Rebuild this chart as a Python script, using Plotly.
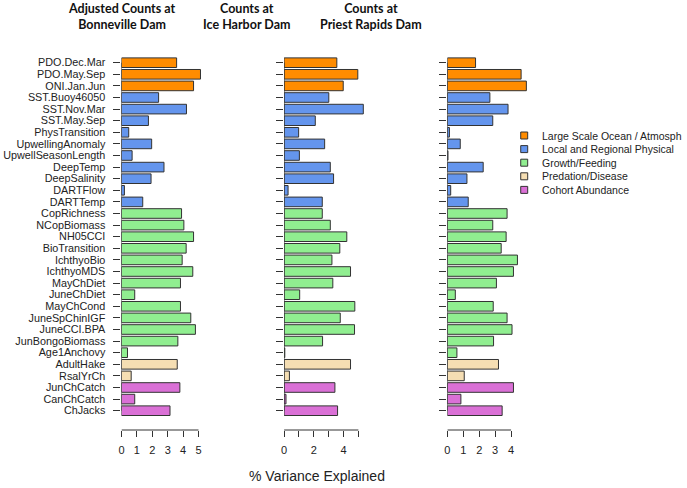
import plotly.graph_objects as go

labels = ["PDO.Dec.Mar", "PDO.May.Sep", "ONI.Jan.Jun", "SST.Buoy46050", "SST.Nov.Mar",
          "SST.May.Sep", "PhysTransition", "UpwellingAnomaly", "UpwellSeasonLength",
          "DeepTemp", "DeepSalinity", "DARTFlow", "DARTTemp", "CopRichness", "NCopBiomass",
          "NH05CCI", "BioTransition", "IchthyoBio", "IchthyoMDS", "MayChDiet", "JuneChDiet",
          "MayChCond", "JuneSpChinIGF", "JuneCCI.BPA", "JunBongoBiomass", "Age1Anchovy",
          "AdultHake", "RsalYrCh", "JunChCatch", "CanChCatch", "ChJacks"]

group_names = ["Large Scale Ocean / Atmosph", "Local and Regional Physical",
               "Growth/Feeding", "Predation/Disease", "Cohort Abundance"]
group_colors = ["#FF8C00", "#6495ED", "#90EE90", "#F5DEB3", "#DA70D6"]
row_group = [0, 0, 0, 1, 1, 1, 1, 1, 1, 1, 1, 1, 1, 2, 2, 2, 2, 2, 2, 2, 2, 2, 2, 2, 2, 2,
             3, 3, 4, 4, 4]

bonneville = [3.58, 5.13, 4.68, 2.41, 4.22, 1.75, 0.47, 1.96, 0.69, 2.76, 1.92, 0.19, 1.38,
              3.90, 4.05, 4.68, 4.20, 3.94, 4.63, 3.83, 0.86, 3.83, 4.50, 4.80, 3.66, 0.39,
              3.62, 0.63, 3.79, 0.86, 3.15]
ice_harbor = [3.55, 4.96, 3.98, 3.01, 5.33, 2.10, 0.98, 2.73, 1.03, 3.11, 3.33, 0.27, 2.57,
              2.57, 3.11, 4.22, 3.75, 3.22, 4.47, 3.28, 1.05, 4.76, 3.78, 4.74, 2.59, 0.05,
              4.47, 0.36, 3.42, 0.13, 3.60]
priest_rapids = [1.77, 4.63, 4.96, 2.67, 3.81, 2.85, 0.13, 0.81, 0.04, 2.25, 1.23, 0.21, 1.31,
                 3.75, 2.85, 3.69, 3.38, 4.40, 4.15, 3.08, 0.50, 2.88, 3.75, 4.06, 2.90, 0.60,
                 3.21, 1.06, 4.15, 0.85, 3.44]

titles = ["Adjusted Counts at<br>Bonneville Dam", "Counts at<br>Ice Harbor Dam",
          "Counts at<br>Priest Rapids Dam"]
tick_vals = [[0, 1, 2, 3, 4, 5], [0, 1, 2, 3, 4, 5], [0, 1, 2, 3, 4]]
tick_text = [["0", "1", "2", "3", "4", "5"], ["0", "", "2", "", "4", ""],
             ["0", "1", "2", "3", "4"]]
x_title = "% Variance Explained"

W, H = 687, 488
def px(x):
    return x / W
def py(y):
    return 1 - y / H

FONT = "Liberation Sans, Arial, sans-serif"
TITLE_FONT = "Lato, Roboto, Liberation Sans, Arial, sans-serif"

# panel geometry (pixels): zero position, pixels per unit, right edge of domain
panels = [(119.0, 15.47, 212.0), (282.3, 14.93, 375.0), (446.3, 16.0, 535.0)]
title_x = [120, 245, 370]
y_top, y_bot = 55.0, 430.0
row0, row_step = 62.7, 11.6
yr = [(y_bot - row0) / row_step, (y_top - row0) / row_step]

colors = [group_colors[g] for g in row_group]
series = [bonneville, ice_harbor, priest_rapids]

fig = go.Figure()
layout = dict(
    width=W, height=H, margin=dict(l=0, r=0, t=0, b=0),
    paper_bgcolor="white", plot_bgcolor="rgba(0,0,0,0)",
    showlegend=False, barmode="overlay",
    font=dict(family=FONT, size=11, color="#222"),
)
shapes = []
annotations = []
for i, (vals, (x0, scale, xr)) in enumerate(zip(series, panels)):
    sfx = "" if i == 0 else str(i + 1)
    fig.add_trace(go.Bar(
        x=vals, y=labels, orientation="h", width=0.83,
        marker=dict(color=colors, line=dict(color="#333333", width=1)),
        xaxis="x" + sfx, yaxis="y" + sfx, hoverinfo="x+y",
    ))
    layout["xaxis" + sfx] = dict(
        domain=[px(x0), px(xr)], range=[0, (xr - x0) / scale], anchor="y" + sfx,
        tickmode="array", tickvals=tick_vals[i], ticktext=tick_text[i],
        ticks="outside", ticklen=6, tickcolor="#333", tickwidth=1,
        showline=False, showgrid=False, zeroline=False,
        tickfont=dict(size=11, color="#222"), ticklabelstandoff=4,
    )
    layout["yaxis" + sfx] = dict(
        domain=[py(y_bot), py(y_top)], range=yr, anchor="x" + sfx,
        type="category", categoryorder="array", categoryarray=labels,
        tickmode="array", tickvals=labels, ticktext=labels,
        ticks="outside", ticklen=7, tickcolor="#333", tickwidth=1,
        showticklabels=(i == 0), showline=False, showgrid=False, zeroline=False,
        tickfont=dict(size=10.8, color="#222"), ticklabelstandoff=6,
    )
    # axis lines spanning only the tick range (as in the original)
    shapes.append(dict(type="line", xref="x" + sfx, yref="paper",
                       x0=tick_vals[i][0], x1=tick_vals[i][-1], y0=py(y_bot), y1=py(y_bot),
                       line=dict(color="#333", width=1)))
    shapes.append(dict(type="line", xref="x" + sfx, yref="y" + sfx,
                       x0=0, x1=0, y0=0, y1=len(labels) - 1,
                       line=dict(color="#333", width=1)))
    annotations.append(dict(text="<b>" + titles[i].replace("<br>", "</b><br><b>") + "</b>",
                            xref="paper", yref="paper", x=px(title_x[i]), y=py(16),
                            xanchor="center", yanchor="middle", showarrow=False,
                            font=dict(family=TITLE_FONT, size=12.5, color="#111")))

annotations.append(dict(text=x_title, xref="paper", yref="paper", x=px(315), y=py(476),
                        xanchor="center", yanchor="middle", showarrow=False,
                        font=dict(family=FONT, size=14, color="#222")))

# legend drawn manually (R-style)
leg_y0, leg_step = 135.5, 13.6
for k, (name, col) in enumerate(zip(group_names, group_colors)):
    yc = leg_y0 + k * leg_step
    shapes.append(dict(type="rect", xref="paper", yref="paper",
                       x0=px(520), x1=px(527), y0=py(yc + 3.5), y1=py(yc - 3.5),
                       fillcolor=col, line=dict(color="#333", width=1)))
    annotations.append(dict(text=name, xref="paper", yref="paper", x=px(539), y=py(yc),
                            xanchor="left", yanchor="middle", showarrow=False,
                            font=dict(family=FONT, size=10.5, color="#222")))

layout["shapes"] = shapes
layout["annotations"] = annotations
fig.update_layout(**layout)
fig.write_html("out.html", config={"displayModeBar": False},
               post_script="document.body.style.margin='0';")
